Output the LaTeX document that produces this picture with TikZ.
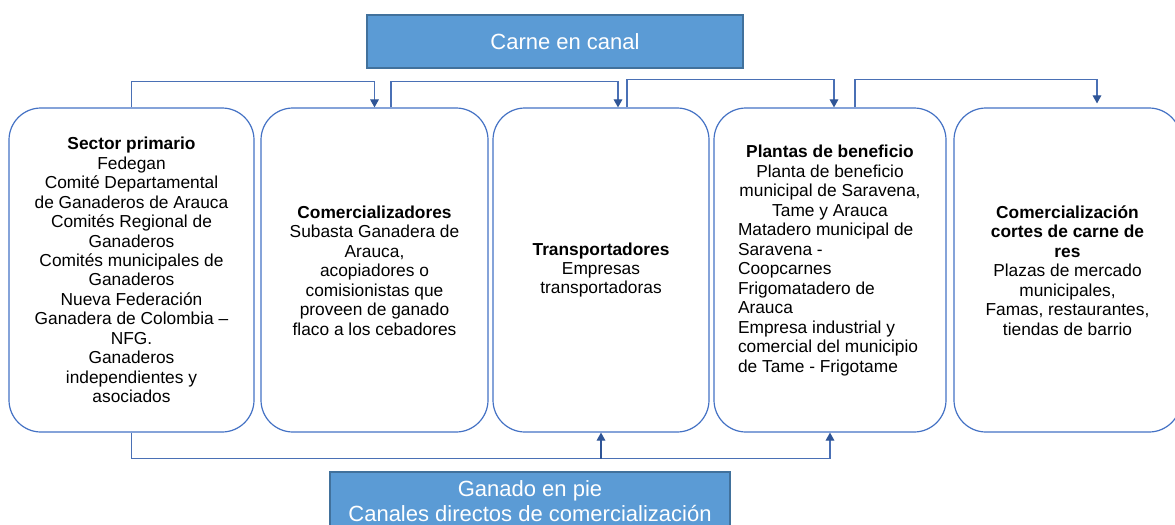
\documentclass[tikz,border=0pt]{standalone}
\usepackage{fontspec}
\setmainfont{Liberation Sans}
\usetikzlibrary{arrows.meta,calc}
\definecolor{boxblue}{HTML}{4472C4}
\definecolor{fillblue}{HTML}{5B9BD5}
\definecolor{edgeblue}{HTML}{41719C}
\definecolor{arrowblue}{HTML}{2F5597}
\definecolor{connblue}{HTML}{4A70B5}
\begin{document}
\begin{tikzpicture}[x=0.75pt,y=-0.75pt,
  stage/.style={draw=boxblue, line width=0.9pt, rounded corners=24pt, minimum height=243pt, inner sep=0pt},
  txt/.style={align=center, font=\fontsize{13pt}{14.6pt}\selectfont, inner sep=0pt},
  titlebox/.style={draw=edgeblue, line width=0.8pt, fill=fillblue, text=white, inner sep=0pt, align=center, font=\fontsize{16.5pt}{19pt}\selectfont},
  conn/.style={draw=connblue, line width=0.8pt, -{Triangle[width=6.5pt,length=6pt,fill=arrowblue,color=arrowblue]}},
  plain/.style={draw=connblue, line width=0.8pt}
]
\useasboundingbox (0,0) rectangle (1175,525);
\clip (0,0) rectangle (1175,525);

\node[titlebox, minimum width=282pt, minimum height=39.75pt] (top) at (555,41.5) {\hspace*{15pt}Carne en canal};
\node[titlebox, minimum width=300pt, minimum height=43.5pt] (ganado) at (530,501) {Ganado en pie\\Canales directos de comercialización};

\node[stage, minimum width=183.75pt] (b1) at (131.5,270) {};
\node[stage, minimum width=170.25pt] (b2) at (374.5,270) {};
\node[stage, minimum width=162pt] (b3) at (601,270) {};
\node[stage, minimum width=174pt] (b4) at (830,270) {};
\node[stage, minimum width=170.25pt] (b5) at (1067.5,270) {};

\node[txt] (t1) at (131.5,270) {\textbf{Sector primario}\\Fedegan\\Comité Departamental\\de Ganaderos de Arauca\\Comités Regional de\\Ganaderos\\Comités municipales de\\Ganaderos\\Nueva Federación\\Ganadera de Colombia –\\NFG.\\Ganaderos\\independientes y\\asociados};
\node[txt] (t2) at (374.5,270.5) {\textbf{Comercializadores}\\Subasta Ganadera de\\Arauca,\\acopiadores o\\comisionistas que\\proveen de ganado\\flaco a los cebadores};
\node[txt] (t3) at (601,270) {\textbf{Transportadores}\\Empresas\\transportadoras};
\node[txt] (t4) at (830,260.5) {\makebox[138pt][c]{\textbf{Plantas de beneficio}}\\\makebox[138pt][c]{Planta de beneficio}\\\makebox[138pt][c]{municipal de Saravena,}\\\makebox[138pt][c]{Tame y Arauca}\\\makebox[138pt][l]{Matadero municipal de}\\\makebox[138pt][l]{Saravena -}\\\makebox[138pt][l]{Coopcarnes}\\\makebox[138pt][l]{Frigomatadero de}\\\makebox[138pt][l]{Arauca}\\\makebox[138pt][l]{Empresa industrial y}\\\makebox[138pt][l]{comercial del municipio}\\\makebox[138pt][l]{de Tame - Frigotame}};
\node[txt] (t5) at (1067.5,270.5) {\textbf{Comercialización}\\\textbf{cortes de carne de}\\\textbf{res}\\Plazas de mercado\\municipales,\\Famas, restaurantes,\\tiendas de barrio};

% top connectors
\draw[conn] (b1.north) -- ++(0,-26) -| (b2.north);
\draw[conn] ($(b2.north)+(16.5,0)$) -- ++(0,-26) -| ($(b3.north)+(17,0)$);
\draw[conn] ($(b3.north)+(26,0)$) -- ++(0,-28) -| ($(b4.north)+(4,0)$);
\draw[conn, shorten >=3pt] ($(b4.north)+(25,0)$) -- ++(0,-28) -| ($(b5.north)+(29.5,0)$);

% bottom connectors
\coordinate (j) at ($(b3.south)+(0,26)$);
\draw[conn] (b1.south) -- ++(0,26) -| (b4.south);
\draw[conn, draw=arrowblue] (j) -- (b3.south);
\end{tikzpicture}
\end{document}
